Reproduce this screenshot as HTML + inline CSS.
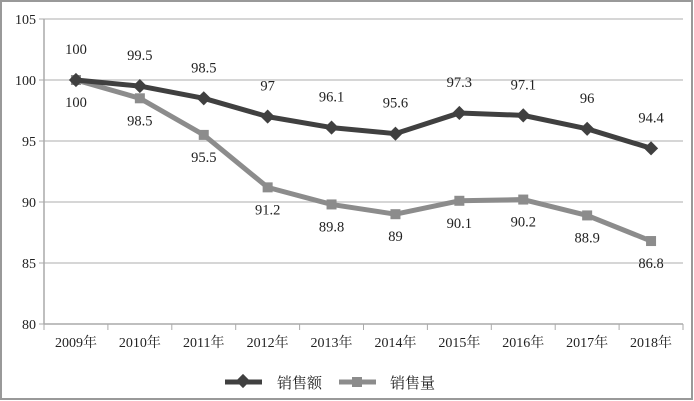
<!DOCTYPE html>
<html><head><meta charset="utf-8"><style>
html,body{margin:0;padding:0;background:#fff}
svg{display:block}
text{font-family:"Liberation Serif","Noto Serif CJK SC",serif;fill:#222}
</style></head><body>
<svg id="chart" width="694" height="401" viewBox="0 0 694 401" xmlns="http://www.w3.org/2000/svg">
<rect x="1" y="1" width="691" height="398" fill="#fff" stroke="#999" stroke-width="2"/>
<g id="grid"></g><g id="axes"></g><g id="series"></g><g id="labels"></g>
<g>
  <g>
    <line x1="225" y1="382" x2="262" y2="382" stroke="#404040" stroke-width="5"/>
    <rect x="238" y="376" width="10" height="10" fill="#404040" transform="rotate(45 243 381)"/>
    <text x="277" y="388" font-size="15" font-family="'Noto Sans CJK SC',sans-serif">销售额</text>
  </g>
  <g>
    <line x1="339" y1="382" x2="376" y2="382" stroke="#8c8c8c" stroke-width="5"/>
    <rect x="352" y="377" width="10" height="10" fill="#8c8c8c"/>
    <text x="390" y="388" font-size="15" font-family="'Noto Sans CJK SC',sans-serif">销售量</text>
  </g>
</g>
</svg>
<script>
const categories = ["2009年","2010年","2011年","2012年","2013年","2014年","2015年","2016年","2017年","2018年"];
const salesAmount = [100,99.5,98.5,97,96.1,95.6,97.3,97.1,96,94.4];
const salesVolume = [100,98.5,95.5,91.2,89.8,89,90.1,90.2,88.9,86.8];
const yTicks = [80,85,90,95,100,105];
const NS="http://www.w3.org/2000/svg";
const L=44,R=683,T=19,B=324,ymin=80,ymax=105;
const step=(R-L)/categories.length;
const x=i=>L+step*(i+0.5);
const y=v=>B-(v-ymin)/(ymax-ymin)*(B-T);
function mk(tag,attrs,parent,txt){const e=document.createElementNS(NS,tag);for(const k in attrs)e.setAttribute(k,attrs[k]);if(txt!==undefined)e.textContent=txt;document.getElementById(parent).appendChild(e);return e;}
yTicks.forEach(v=>{
  if(v>ymin){const g=mk('line',{x1:L,x2:R,y1:y(v),y2:y(v),stroke:'#c8c8c8','stroke-width':1.5},'grid');
  
  }
  const t=mk('line',{x1:L-5,x2:L,y1:y(v),y2:y(v),stroke:'#aaa'},'axes');
  
  
  const l=mk('text',{x:L-8,y:y(v)+5,'text-anchor':'end','font-size':14,fill:'#555'},'axes',v);
  
  
});
const ya=mk('line',{x1:L,x2:L,y1:T,y2:B,stroke:'#aaa','stroke-width':1.5},'axes');


const xa=mk('line',{x1:L,x2:R,y1:B,y2:B,stroke:'#aaa','stroke-width':1.5},'axes');


for(let i=0;i<=categories.length;i++){const t=mk('line',{x1:L+step*i,x2:L+step*i,y1:B,y2:B+6,stroke:'#aaa'},'axes');
  
  }
categories.forEach((c,i)=>{const t=mk('text',{x:x(i),y:B+23,'text-anchor':'middle','font-size':14},'axes',c);
  
  });
function series(vals,color,marker,name,dy){
  const p=mk('polyline',{points:vals.map((v,i)=>x(i)+','+y(v)).join(' '),fill:'none',stroke:color,'stroke-width':5,'stroke-linejoin':'round'},'series');
  
  
  vals.forEach((v,i)=>{let m;
    if(marker==='diamond')m=mk('rect',{x:x(i)-5,y:y(v)-5,width:10,height:10,fill:color,transform:`rotate(45 ${x(i)} ${y(v)})`},'series');
    else m=mk('rect',{x:x(i)-5,y:y(v)-5,width:10,height:10,fill:color},'series');
    
    
    const t=mk('text',{x:x(i),y:y(v)+dy,'text-anchor':'middle','font-size':14.5},'labels',v);
    
    
  });
}
series(salesVolume,'#8c8c8c','square','sales-volume',27);
series(salesAmount,'#404040','diamond','sales-amount',-26);
</script>
</body></html>
